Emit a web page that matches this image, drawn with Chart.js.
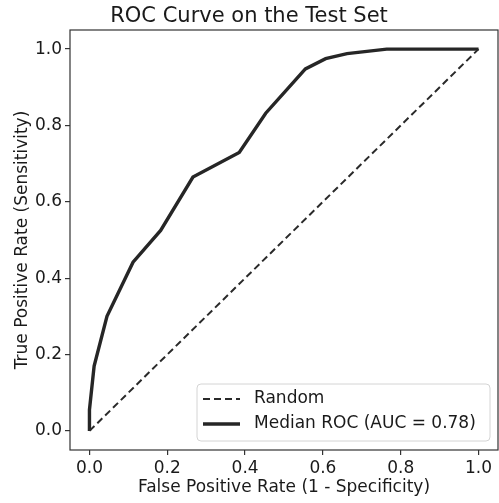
<!DOCTYPE html>
<html>
<head>
<meta charset="utf-8">
<script src="https://cdn.jsdelivr.net/npm/chart.js@4/dist/chart.umd.min.js"></script>
<style>
  html, body { margin: 0; padding: 0; background: #fff; }
  #wrap { width: 499px; height: 503px; }
</style>
</head>
<body>
<div id="wrap"><canvas id="c" width="499" height="503"></canvas></div>
<script>
// ---- data ----
const rocFpr = [0.0, 0.0, 0.012, 0.045, 0.112, 0.183, 0.266, 0.385, 0.453, 0.555, 0.607, 0.662, 0.764, 1.0];
const rocTpr = [0.0, 0.055, 0.17, 0.30, 0.442, 0.525, 0.665, 0.729, 0.832, 0.948, 0.975, 0.988, 1.0, 1.0];
const randomFpr = [0.0, 1.0];
const randomTpr = [0.0, 1.0];
const xTicks = [0.0, 0.2, 0.4, 0.6, 0.8, 1.0];
const yTicks = [0.0, 0.2, 0.4, 0.6, 0.8, 1.0];
const seriesLabels = ['Random', 'Median ROC (AUC = 0.78)'];
const titleText = 'ROC Curve on the Test Set';
const xLabel = 'False Positive Rate (1 - Specificity)';
const yLabel = 'True Positive Rate (Sensitivity)';

const FONT = "'DejaVu Sans', 'Liberation Sans', sans-serif";
const INK = '#1a1a1a';

const toPts = (xs, ys) => xs.map((x, i) => ({ x: x, y: ys[i] }));

const framePlugin = {
  id: 'frame',
  afterDatasetsDraw(chart) {
    const { ctx, chartArea: a } = chart;
    ctx.save();
    ctx.strokeStyle = '#333333';
    ctx.lineWidth = 1.2;
    ctx.strokeRect(a.left, a.top, a.right - a.left, a.bottom - a.top);
    ctx.restore();
  }
};

const legendPlugin = {
  id: 'mplLegend',
  afterDatasetsDraw(chart) {
    const { ctx, chartArea: a } = chart;
    const boxW = 293, boxH = 57;
    const x0 = a.right - 8 - boxW, y0 = a.bottom - 9 - boxH;
    ctx.save();
    const r = 4;
    ctx.beginPath();
    ctx.moveTo(x0 + r, y0);
    ctx.lineTo(x0 + boxW - r, y0);
    ctx.quadraticCurveTo(x0 + boxW, y0, x0 + boxW, y0 + r);
    ctx.lineTo(x0 + boxW, y0 + boxH - r);
    ctx.quadraticCurveTo(x0 + boxW, y0 + boxH, x0 + boxW - r, y0 + boxH);
    ctx.lineTo(x0 + r, y0 + boxH);
    ctx.quadraticCurveTo(x0, y0 + boxH, x0, y0 + boxH - r);
    ctx.lineTo(x0, y0 + r);
    ctx.quadraticCurveTo(x0, y0, x0 + r, y0);
    ctx.closePath();
    ctx.fillStyle = 'rgba(255,255,255,0.8)';
    ctx.fill();
    ctx.strokeStyle = '#d4d4d4';
    ctx.lineWidth = 1;
    ctx.stroke();
    ctx.font = '17px ' + FONT;
    ctx.textBaseline = 'middle';
    ctx.fillStyle = INK;
    chart.data.datasets.forEach((ds, i) => {
      const yy = y0 + 15 + i * 25;
      ctx.beginPath();
      ctx.setLineDash(ds.borderDash || []);
      ctx.strokeStyle = ds.borderColor;
      ctx.lineWidth = ds.borderWidth;
      ctx.moveTo(x0 + 6, yy);
      ctx.lineTo(x0 + 43, yy);
      ctx.stroke();
      ctx.setLineDash([]);
      ctx.fillText(ds.label, x0 + 57, yy);
    });
    ctx.restore();
  }
};

new Chart(document.getElementById('c'), {
  type: 'scatter',
  data: {
    datasets: [
      {
        label: seriesLabels[0],
        data: toPts(randomFpr, randomTpr),
        showLine: true,
        borderColor: '#2a2a2a',
        borderWidth: 2,
        borderDash: [7, 4],
        pointRadius: 0,
        fill: false
      },
      {
        label: seriesLabels[1],
        data: toPts(rocFpr, rocTpr),
        showLine: true,
        borderColor: '#262626',
        borderWidth: 3.4,
        pointRadius: 0,
        fill: false,
        tension: 0
      }
    ]
  },
  options: {
    responsive: false,
    animation: false,
    devicePixelRatio: 1,
    layout: { padding: { left: 0, right: 1, top: 0, bottom: 0 } },
    plugins: {
      legend: { display: false },
      tooltip: { enabled: false },
      title: {
        display: true,
        text: titleText,
        color: INK,
        font: { family: FONT, size: 21, weight: 'normal' },
        padding: { top: 4, bottom: 0.8 }
      }
    },
    scales: {
      x: {
        type: 'linear',
        min: -0.05,
        max: 1.05,
        afterBuildTicks(scale) { scale.ticks = xTicks.map(v => ({ value: v })); },
        afterFit(scale) { scale.height = 53; },
        ticks: {
          color: INK,
          font: { family: FONT, size: 17 },
          padding: 3,
          callback: v => Number(v).toFixed(1)
        },
        grid: { display: true, drawOnChartArea: false, drawTicks: true, tickLength: 5, color: '#333333', lineWidth: 1.2 },
        border: { display: false },
        title: {
          display: true,
          text: xLabel,
          color: INK,
          font: { family: FONT, size: 17 },
          padding: { top: 0, bottom: 5 }
        }
      },
      y: {
        type: 'linear',
        min: -0.05,
        max: 1.05,
        afterBuildTicks(scale) { scale.ticks = yTicks.map(v => ({ value: v })); },
        afterFit(scale) { scale.width = 70; },
        ticks: {
          color: INK,
          font: { family: FONT, size: 17 },
          padding: 3,
          callback: v => Number(v).toFixed(1)
        },
        grid: { display: true, drawOnChartArea: false, drawTicks: true, tickLength: 5, color: '#333333', lineWidth: 1.2 },
        border: { display: false },
        title: {
          display: true,
          text: yLabel,
          color: INK,
          font: { family: FONT, size: 17 },
          padding: { top: 12, bottom: 0 }
        }
      }
    }
  },
  plugins: [framePlugin, legendPlugin]
});
</script>
</body>
</html>
